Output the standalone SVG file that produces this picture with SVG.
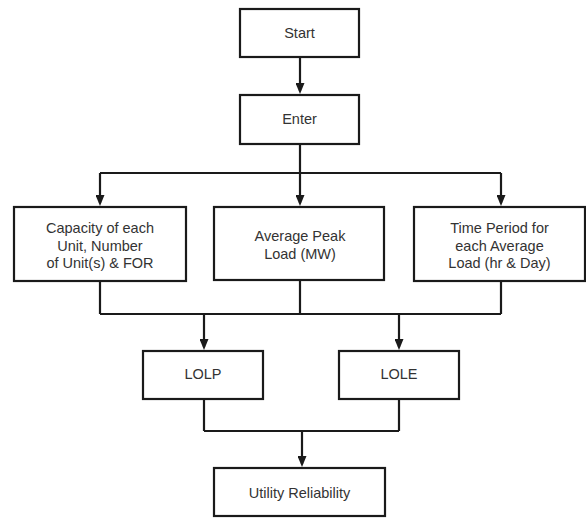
<svg xmlns="http://www.w3.org/2000/svg" width="586" height="518" viewBox="0 0 586 518">
<style>
.box{fill:#fff;stroke:#1a1a1a;stroke-width:2.2}
.lbl{font-family:"Liberation Sans",Arial,Helvetica,sans-serif;font-size:14.5px;fill:#333;text-anchor:middle}
.ln{fill:none;stroke:#1a1a1a;stroke-width:2.2;stroke-linejoin:miter}
.arr{fill:none;stroke:#1a1a1a;stroke-width:2.2;marker-end:url(#ah)}
</style>
<defs>
<marker id="ah" markerUnits="userSpaceOnUse" markerWidth="11" markerHeight="9" viewBox="0 0 11 9" refX="8" refY="4.5" orient="auto">
<path d="M0,0 L11,4.5 L0,9 Z" fill="#1a1a1a"/>
</marker>
</defs>
<rect width="586" height="518" fill="#fff"/>
<g id="connectors">
<path class="ln" d="M300,144 V173 M100,173 H501"/>
<path class="ln" d="M100,281 V314 M300,281 V314 M501,281 V314 M100,314 H501"/>
<path class="ln" d="M204,399 V431 M399,399 V431 M204,431 H399"/>
<path class="arr" d="M300,57 V91"/>
<path class="arr" d="M100,173 V203"/>
<path class="arr" d="M300,173 V203"/>
<path class="arr" d="M501,173 V203"/>
<path class="arr" d="M204,314 V347"/>
<path class="arr" d="M399,314 V347"/>
<path class="arr" d="M302,431 V464"/>
</g>
<g id="start"><rect class="box" x="240" y="9" width="119" height="48"/><text class="lbl" x="299.5" y="38">Start</text></g>
<g id="enter"><rect class="box" x="240" y="95" width="119" height="49"/><text class="lbl" x="299.5" y="124">Enter</text></g>
<g id="capacity"><rect class="box" x="14" y="207" width="172" height="74"/><text class="lbl" x="100" y="233">Capacity of each</text><text class="lbl" x="100" y="250.5">Unit, Number</text><text class="lbl" x="100" y="267.5">of Unit(s) &amp; FOR</text></g>
<g id="peak"><rect class="box" x="214" y="207" width="170" height="73"/><text class="lbl" x="300" y="241">Average Peak</text><text class="lbl" x="300" y="259">Load (MW)</text></g>
<g id="time"><rect class="box" x="414" y="207" width="171" height="74"/><text class="lbl" x="499.5" y="233">Time Period for</text><text class="lbl" x="499.5" y="250.5">each Average</text><text class="lbl" x="499.5" y="267.5">Load (hr &amp; Day)</text></g>
<g id="lolp"><rect class="box" x="143" y="351" width="120" height="48"/><text class="lbl" x="203" y="379">LOLP</text></g>
<g id="lole"><rect class="box" x="339" y="351" width="120" height="48"/><text class="lbl" x="399" y="379">LOLE</text></g>
<g id="utility"><rect class="box" x="214" y="468" width="171" height="48"/><text class="lbl" x="299.5" y="498">Utility Reliability</text></g>
</svg>
